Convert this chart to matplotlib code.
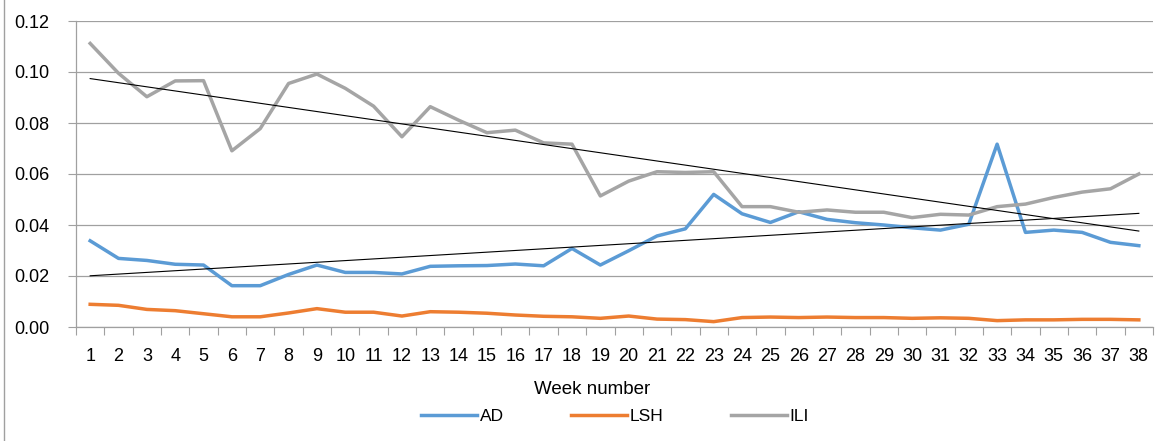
import matplotlib
matplotlib.use("Agg")
import matplotlib.pyplot as plt
from matplotlib.lines import Line2D
import numpy as np

plt.rcParams['font.family'] = ['Liberation Sans', 'DejaVu Sans']

weeks = list(range(1, 39))

ad = [0.0338, 0.0269, 0.0261, 0.0246, 0.0243, 0.0162, 0.0162, 0.0206, 0.0243, 0.0214,
      0.0214, 0.0208, 0.0238, 0.0240, 0.0241, 0.0247, 0.0240, 0.0308, 0.0243, 0.0299,
      0.0357, 0.0385, 0.0520, 0.0444, 0.0410, 0.0452, 0.0422, 0.0409, 0.0400, 0.0389,
      0.0380, 0.0403, 0.0717, 0.0371, 0.0380, 0.0371, 0.0332, 0.0319]

lsh = [0.0089, 0.0085, 0.0069, 0.0064, 0.0052, 0.0040, 0.0040, 0.0055, 0.0072, 0.0058,
       0.0058, 0.0043, 0.0060, 0.0058, 0.0054, 0.0047, 0.0042, 0.0040, 0.0034, 0.0043,
       0.0031, 0.0029, 0.0021, 0.0037, 0.0039, 0.0037, 0.0039, 0.0037, 0.0037, 0.0034,
       0.0036, 0.0034, 0.0025, 0.0028, 0.0028, 0.0030, 0.0030, 0.0028]

ili = [0.1112, 0.0995, 0.0903, 0.0965, 0.0966, 0.0691, 0.0778, 0.0955, 0.0992, 0.0936,
       0.0866, 0.0746, 0.0864, 0.0811, 0.0762, 0.0772, 0.0722, 0.0717, 0.0514, 0.0572,
       0.0609, 0.0606, 0.0609, 0.0472, 0.0472, 0.0450, 0.0459, 0.0450, 0.0450, 0.0429,
       0.0442, 0.0439, 0.0472, 0.0482, 0.0508, 0.0529, 0.0542, 0.0600]

yticks = [0.00, 0.02, 0.04, 0.06, 0.08, 0.10, 0.12]

W, H = 1167, 441
fig = plt.figure(figsize=(W / 100, H / 100), dpi=100)
ax = fig.add_axes([76 / W, 1 - 327 / H, (1153 - 76) / W, (327 - 21) / H])

x = np.array(weeks)
grid_c = '#a0a0a0'

ax.plot(x, ad, color='#5b9bd5', lw=2.5, label='AD', solid_joinstyle='round')
ax.plot(x, lsh, color='#ed7d31', lw=2.5, label='LSH', solid_joinstyle='round')
ax.plot(x, ili, color='#a5a5a5', lw=2.5, label='ILI', solid_joinstyle='round')

# linear trendlines
for s in (ad, ili):
    k, b = np.polyfit(x, s, 1)
    ax.plot(x, k * x + b, color='black', lw=0.8)

ax.set_xlim(0.5, 38.5)
ax.set_ylim(0, 0.12)
ax.set_yticks(yticks)
ax.set_yticklabels(['%.2f' % v for v in yticks])
ax.set_xticks(weeks)
ax.set_xticklabels([str(w) for w in weeks])
ax.set_xticks(np.arange(0.5, 39.0, 1.0), minor=True)
ax.tick_params(axis='x', which='major', length=0, pad=15, labelsize=13)
ax.tick_params(axis='x', which='minor', length=6, color=grid_c, width=0.8)
ax.tick_params(axis='y', length=6, color=grid_c, width=0.8, pad=13, labelsize=13)

ax.grid(axis='y', color=grid_c, lw=0.9)
ax.set_axisbelow(True)
for side in ('top', 'right'):
    ax.spines[side].set_visible(False)
for side in ('left', 'bottom'):
    ax.spines[side].set_color(grid_c)
    ax.spines[side].set_linewidth(0.9)

fig.text(592 / W, 1 - 390 / H, 'Week number', ha='center', va='center', fontsize=13.5)

fig.legend(loc='center', bbox_to_anchor=(615 / W, 1 - 416 / H), ncol=3, frameon=False,
           fontsize=12.5, handlelength=3.2, columnspacing=3.9, handletextpad=0.15)

# chart area border on the left
fig.add_artist(Line2D([4 / W, 4 / W], [0, 1], color='#a0a0a0', lw=1.0,
                      transform=fig.transFigure))

fig.savefig('out.png', dpi=100)
